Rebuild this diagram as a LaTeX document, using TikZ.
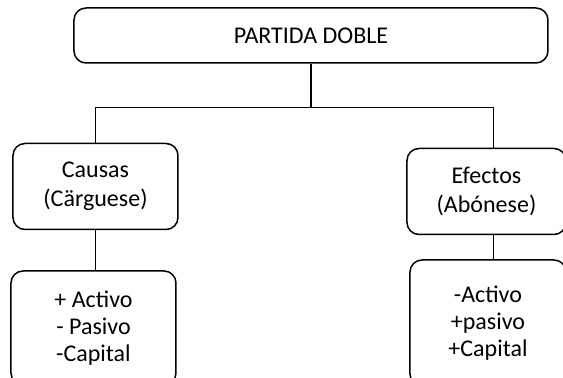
\documentclass[tikz,border=0pt]{standalone}
\usepackage{fontspec}
\setmainfont{Carlito}
\usetikzlibrary{positioning}

\tikzset{
  caja/.style={draw, line width=0.75pt, rounded corners=6pt, inner sep=0pt,
    align=center, font=\fontsize{12}{14.5}\selectfont},
  lista/.style={caja, font=\fontsize{12}{13.5}\selectfont},
}

\begin{document}
\begin{tikzpicture}[line width=0.75pt]
\useasboundingbox (-155.5pt,17.75pt) rectangle (126pt,-171.25pt);

\node(partida)[caja, minimum width=237pt, minimum height=27.5pt]{PARTIDA DOBLE};
\node(rama)[coordinate, below = 22pt of partida]{};

\node(causas)[caja, minimum width=82.5pt, minimum height=43pt,
  below = 39.5pt of partida, xshift=-107.75pt]{Causas\\(Cärguese)};
\node(efectos)[caja, minimum width=79.5pt, minimum height=43pt,
  below = 42pt of partida, xshift=87.75pt]{Efectos\\(Abónese)};

\node(cargo)[lista, minimum width=82.5pt, minimum height=57pt,
  below = 20pt of causas, xshift=-1pt]{+ Activo\\- Pasivo\\-Capital};
\node(abono)[lista, minimum width=78pt, minimum height=63pt,
  below = 12pt of efectos, xshift=0.75pt]{-Activo\\+pasivo\\+Capital};

\draw (partida) -- (rama);
\draw (causas) |- (rama) -| ([xshift=3.5pt]efectos.north);
\draw (causas.south) -- (causas.south |- cargo.north);
\draw ([xshift=3.5pt]efectos.south) -- ([xshift=3.5pt]efectos.south |- abono.north);
\end{tikzpicture}
\end{document}
